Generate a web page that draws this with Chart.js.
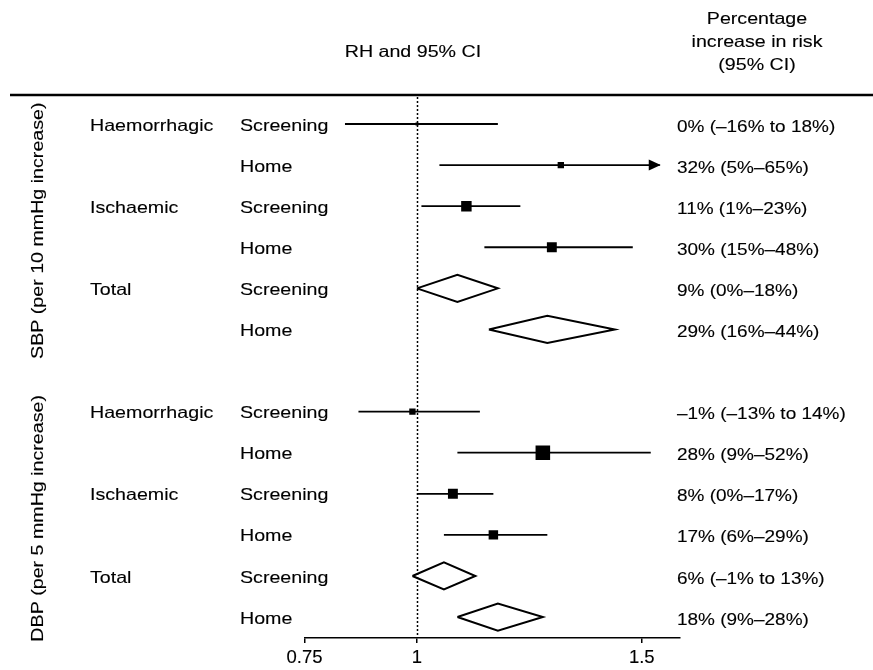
<!DOCTYPE html>
<html>
<head>
<meta charset="utf-8">
<script src="https://cdn.jsdelivr.net/npm/chart.js@4.4.1/dist/chart.umd.min.js"></script>
<style>
  html, body { margin: 0; padding: 0; background: #fff; }
  canvas { display: block; }
</style>
</head>
<body>
<canvas id="forest" width="873" height="670"></canvas>
<script>
// Blood pressure measures, stroke types and measurement settings
const bpMeasures  = ['SBP (per 10 mmHg increase)', 'DBP (per 5 mmHg increase)'];
const strokeTypes = ['Haemorrhagic', 'Ischaemic', 'Total'];
const settings    = ['Screening', 'Home'];

// Relative hazard (RH) with 95% CI, one entry per row: SBP block first, then DBP
const rhEstimate = [1.00, 1.32, 1.11, 1.30, 1.09, 1.29, 0.99, 1.28, 1.08, 1.17, 1.06, 1.18];
const rhLower    = [0.84, 1.05, 1.01, 1.15, 1.00, 1.16, 0.87, 1.09, 1.00, 1.06, 0.99, 1.09];
const rhUpper    = [1.18, 1.65, 1.23, 1.48, 1.18, 1.44, 1.14, 1.52, 1.17, 1.29, 1.13, 1.28];

// X axis tick values
const xTicks = [0.75, 1, 1.5];

// ---- styling ----
const FONT = '"Liberation Sans", Arial, Helvetica, sans-serif';
const FONT_SIZE = 16.5;
const STRETCH = 1.19;          // the lettering is set wide
const markerRadius = [2, 4.5, 7.4, 7, 0, 0, 4.5, 10.3, 7, 6.7, 0, 0];
const DIAMOND_HALF = 0.33;     // half height of summary diamonds, in row units
const X_MIN = 0.75, X_MAX = 1.585;
const CI_SHOWN_MAX = 1.54;     // intervals beyond this end in an arrow

// Build the row list in drawing order
const rows = [];
bpMeasures.forEach((m, mi) =>
  strokeTypes.forEach((t, ti) =>
    settings.forEach((s, si) => rows.push({ m: mi, t, s, si, i: rows.length }))));

// one blank row separates the SBP and DBP blocks
const rowY = i => i + (i >= strokeTypes.length * settings.length ? 1 : 0);

const pct = v => Math.round((v - 1) * 100);
const fmtPct = n => (n < 0 ? '\u2013' + Math.abs(n) : String(n)) + '%';
function riskLabel(i) {
  const e = pct(rhEstimate[i]), lo = pct(rhLower[i]), hi = pct(rhUpper[i]);
  return lo < 0
    ? `${fmtPct(e)} (${fmtPct(lo)} to ${fmtPct(hi)})`
    : `${fmtPct(e)} (${fmtPct(lo)}\u2013${fmtPct(hi)})`;
}

// Confidence-interval segments for the individual estimates
const ciRows = rows.filter(r => r.t !== 'Total');
const ciSets = ciRows.map(r => ({
  data: [
    { x: rhLower[r.i], y: rowY(r.i) },
    { x: Math.min(rhUpper[r.i], CI_SHOWN_MAX), y: rowY(r.i) }
  ],
  showLine: true,
  borderColor: '#000',
  borderWidth: 1.8,
  pointRadius: 0
}));

// Point estimates as filled squares
const estimateSet = {
  data: ciRows.map(r => ({ x: rhEstimate[r.i], y: rowY(r.i) })),
  pointStyle: 'rect',
  pointRadius: ciRows.map(r => markerRadius[r.i]),
  backgroundColor: '#000',
  borderWidth: 0,
  showLine: false
};

// Pooled (Total) estimates as open diamonds
const diamondSets = rows.filter(r => r.t === 'Total').map(r => {
  const y = rowY(r.i);
  return {
    data: [
      { x: rhLower[r.i], y },
      { x: rhEstimate[r.i], y: y - DIAMOND_HALF },
      { x: rhUpper[r.i], y },
      { x: rhEstimate[r.i], y: y + DIAMOND_HALF },
      { x: rhLower[r.i], y }
    ],
    showLine: true,
    borderColor: '#000',
    borderWidth: 2,
    borderJoinStyle: 'miter',
    pointRadius: 0,
    fill: false
  };
});

function wideText(ctx, text, x, y, align, rotate, sx) {
  ctx.save();
  ctx.translate(x, y);
  if (rotate) ctx.rotate(-Math.PI / 2);
  ctx.scale(sx || STRETCH, 1);
  ctx.textAlign = align;
  ctx.textBaseline = 'middle';
  ctx.lineWidth = 0.12;
  ctx.strokeStyle = '#000';
  ctx.fillText(text, 0, 0);
  ctx.strokeText(text, 0, 0);
  ctx.restore();
}

const forestDecor = {
  id: 'forestDecor',
  beforeDatasetsDraw(chart) {
    const { ctx, chartArea, scales: { x } } = chart;
    // reference line at RH = 1
    ctx.save();
    ctx.strokeStyle = '#000';
    ctx.lineWidth = 1.5;
    ctx.setLineDash([2, 2]);
    const px = Math.round(x.getPixelForValue(1)) + 0.5;
    ctx.beginPath();
    ctx.moveTo(px, chartArea.top + 2);
    ctx.lineTo(px, chartArea.bottom);
    ctx.stroke();
    ctx.restore();
  },
  afterDatasetsDraw(chart) {
    const { ctx, scales: { x, y } } = chart;
    // arrowheads for intervals running past the plotted range
    ctx.save();
    ctx.fillStyle = '#000';
    ciRows.forEach(r => {
      if (rhUpper[r.i] <= CI_SHOWN_MAX) return;
      const tip = x.getPixelForValue(CI_SHOWN_MAX);
      const py = y.getPixelForValue(rowY(r.i));
      ctx.beginPath();
      ctx.moveTo(tip + 1, py);
      ctx.lineTo(tip - 11, py - 5.5);
      ctx.lineTo(tip - 11, py + 5.5);
      ctx.closePath();
      ctx.fill();
    });
    ctx.restore();
  },
  afterDraw(chart) {
    const { ctx, chartArea, scales: { x, y } } = chart;
    ctx.save();
    ctx.fillStyle = '#000';
    ctx.font = `${FONT_SIZE}px ${FONT}`;

    // headers
    wideText(ctx, 'RH and 95% CI', x.getPixelForValue(1) - 4, 52, 'center');
    const hx = 757;
    wideText(ctx, 'Percentage', hx, 19, 'center');
    wideText(ctx, 'increase in risk', hx, 42, 'center');
    wideText(ctx, '(95% CI)', hx, 65, 'center');

    // rule under the headers
    ctx.strokeStyle = '#000';
    ctx.lineWidth = 2.5;
    ctx.beginPath();
    ctx.moveTo(10, chartArea.top);
    ctx.lineTo(873, chartArea.top);
    ctx.stroke();

    // row labels and percentage increases
    rows.forEach(r => {
      const py = y.getPixelForValue(rowY(r.i)) + 2;
      if (r.si === 0) wideText(ctx, r.t, 90, py, 'left');
      wideText(ctx, r.s, 240, py, 'left');
      wideText(ctx, riskLabel(r.i), 677, py + 1, 'left', false, 1.15);
    });

    // rotated block labels
    const perBlock = strokeTypes.length * settings.length;
    bpMeasures.forEach((m, mi) => {
      const first = rowY(mi * perBlock), last = rowY(mi * perBlock + perBlock - 1);
      const cy = (y.getPixelForValue(first) + y.getPixelForValue(last)) / 2 + 4;
      wideText(ctx, m, 38, cy, 'center', true);
    });
    ctx.restore();
  }
};

new Chart(document.getElementById('forest'), {
  type: 'scatter',
  data: { datasets: [...ciSets, estimateSet, ...diamondSets] },
  options: {
    responsive: false,
    animation: false,
    events: [],
    layout: { padding: { top: 95, left: 304.5, right: 873 - 680, bottom: 0 } },
    plugins: { legend: { display: false }, tooltip: { enabled: false } },
    scales: {
      x: {
        type: 'linear',
        min: X_MIN,
        max: X_MAX,
        afterBuildTicks: s => { s.ticks = xTicks.map(v => ({ value: v })); },
        afterFit: s => { s.height = 32; },
        grid: { drawOnChartArea: false, drawTicks: true, tickLength: 5, color: '#000', lineWidth: 1.5 },
        border: { display: true, color: '#000', width: 1.5 },
        ticks: {
          color: '#000',
          padding: 4,
          maxRotation: 0,
          autoSkip: false,
          textStrokeColor: '#000',
          textStrokeWidth: 0.12,
          font: { family: FONT, size: 18.5 },
          callback: v => String(v)
        }
      },
      y: {
        type: 'linear',
        reverse: true,
        min: -0.706,
        max: 12.51,
        display: false
      }
    }
  },
  plugins: [forestDecor]
});
</script>
</body>
</html>
